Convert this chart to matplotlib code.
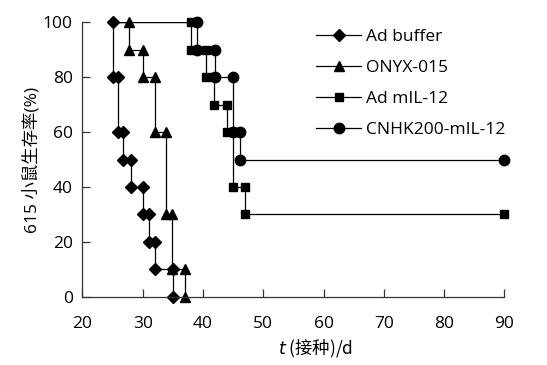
import matplotlib
import matplotlib.pyplot as plt

matplotlib.use("Agg")
plt.rcParams["font.family"] = ["Open Sans", "Noto Sans CJK SC", "DejaVu Sans"]
plt.rcParams["mathtext.fontset"] = "dejavusans"

START_DAY = 25
END_DAY = 90

# Kaplan-Meier style steps: day of each drop, survival (%) before/after
buffer_days = [25, 25.9, 26.8, 28, 30, 31, 32, 35]
buffer_surv = [100, 80, 60, 50, 40, 30, 20, 10, 0]

onyx_days = [27.8, 30, 32, 33.9, 34.8, 37]
onyx_surv = [100, 90, 80, 60, 30, 10, 0]

mil12_days = [38, 40.5, 41.8, 44, 45, 46.9]
mil12_surv = [100, 90, 80, 70, 60, 40, 30]

cnhk_days = [39, 42, 45, 46.2]
cnhk_surv = [100, 90, 80, 60, 50]

labels = ["Ad buffer", "ONYX-015", "Ad mIL-12", "CNHK200-mIL-12"]


def steps(days, surv, end=None):
    xs, ys = [], []
    for d, s0, s1 in zip(days, surv[:-1], surv[1:]):
        xs += [d, d]
        ys += [s0, s1]
    if end is not None:
        xs.append(end)
        ys.append(surv[-1])
    return xs, ys


fig = plt.figure(figsize=(5.47, 3.65), dpi=100)
ax = fig.add_axes([0.1508, 0.187, 0.7712, 0.752])

series = [
    (buffer_days, buffer_surv, None, "D", 6.5),
    (onyx_days, onyx_surv, None, "^", 6.5),
    (mil12_days, mil12_surv, END_DAY, "s", 5.8),
    (cnhk_days, cnhk_surv, END_DAY, "o", 7.5),
]
for (days, surv, end, mk, ms), lab in zip(series, labels):
    ax.plot([START_DAY, days[0]], [100, 100], color="black", lw=0.9)
    xs, ys = steps(days, surv, end)
    ax.plot(xs, ys, color="black", lw=0.9, marker=mk, ms=ms,
            mfc="black", mec="black", label=lab, clip_on=False)

ax.set_xlim(20, 90)
ax.set_ylim(0, 100)
ax.set_xticks(range(20, 91, 10))
ax.set_yticks(range(0, 101, 20))
for s in ["top", "right"]:
    ax.spines[s].set_visible(False)
for s in ["left", "bottom"]:
    ax.spines[s].set_color("#333333")
    ax.spines[s].set_linewidth(0.9)
ax.tick_params(direction="in", length=6, width=0.9, labelsize=12.5,
               colors="#333333", labelcolor="black")
ax.tick_params(axis="x", pad=14)
ax.tick_params(axis="y", pad=7)

ax.set_xlabel("$t$ (接种)/d", fontsize=12.5, family="Noto Sans CJK SC")
ax.xaxis.set_label_coords(0.553, -0.15)
ax.set_ylabel("615 小鼠生存率(%)", fontsize=12.5)
ax.yaxis.set_label_coords(-0.10, 0.5)

ax.legend(loc="upper right", bbox_to_anchor=(1.02, 1.0), frameon=False,
          fontsize=12.5, handlelength=2.6, labelspacing=0.85,
          handletextpad=0.3, borderaxespad=0)

fig.savefig("out.png", dpi=100)
